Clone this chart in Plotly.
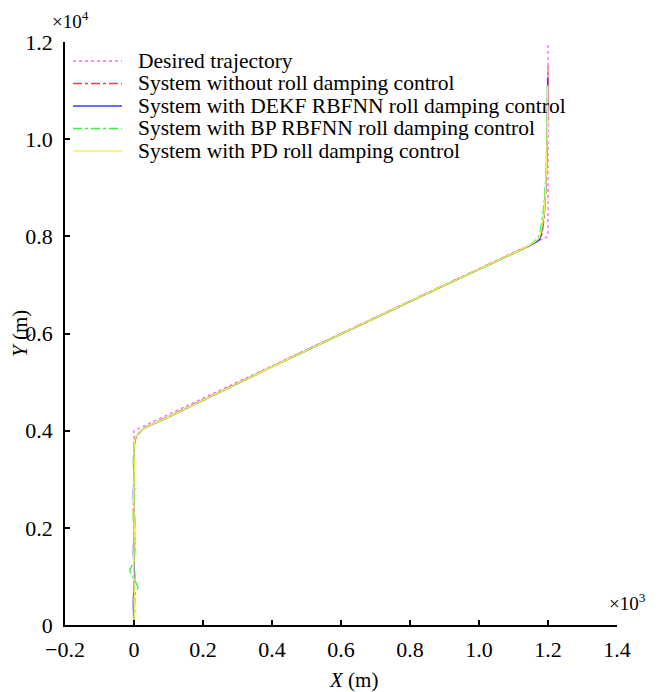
import plotly.graph_objects as go

# ---- data (metres) ----
des_x = [0, 0, 1200, 1200]
des_y = [0, 4000, 8000, 12000]

red_x = [0, 2, -1, 2, -2, 1, -1, 2, 8, 30, 100, 300, 500, 700, 900, 1100, 1150, 1178, 1190, 1196, 1199, 1200]
red_y = [0, 600, 1200, 1800, 2400, 3000, 3400, 3750, 3890, 4050, 4290, 4980, 5660, 6330, 7000, 7660, 7830, 7960, 8500, 9400, 10500, 11500]

blue_x = [0, -2, 2, -2, 2, -2, 1, 0, 6, 28, 100, 300, 500, 700, 900, 1100, 1150, 1176, 1187, 1195, 1198, 1199]
blue_y = [0, 500, 1000, 1500, 2100, 2700, 3200, 3700, 3880, 4040, 4280, 4970, 5650, 6320, 6990, 7650, 7820, 7940, 8400, 9300, 10300, 11270]

green_x = [0, 2, 0, 11, 0, -12, 0, 3, -2, 2, -2, 1, 6, 26, 100, 300, 500, 700, 900, 1100, 1148, 1172, 1186, 1194, 1197, 1198]
green_y = [0, 300, 580, 770, 950, 1120, 1300, 1700, 2200, 2800, 3300, 3700, 3870, 4030, 4280, 4970, 5650, 6320, 6990, 7650, 7830, 7980, 8500, 9300, 10200, 11100]

yellow_x = [0, 1, -1, 1, -1, 1, 0, 6, 27, 100, 300, 500, 700, 900, 1100, 1149, 1174, 1188, 1195, 1198, 1199]
yellow_y = [0, 600, 1300, 2000, 2700, 3300, 3700, 3880, 4035, 4285, 4975, 5655, 6325, 6995, 7655, 7830, 7970, 8450, 9300, 10200, 11100]

names = [
    "Desired trajectory",
    "System without roll damping control",
    "System with DEKF RBFNN roll damping control",
    "System with BP RBFNN roll damping control",
    "System with PD roll damping control",
]

x_ticks = [-200, 0, 200, 400, 600, 800, 1000, 1200, 1400]
x_ticktext = ["\u22120.2", "0", "0.2", "0.4", "0.6", "0.8", "1.0", "1.2", "1.4"]
y_ticks = [0, 2000, 4000, 6000, 8000, 10000, 12000]
y_ticktext = ["0", "0.2", "0.4", "0.6", "0.8", "1.0", "1.2"]

FONT = "Liberation Serif, Times New Roman, serif"

colors = ["#ff66ff", "#ff3b3b", "#3b3bff", "#3bee3b", "#f2f24a"]
dashes = ["dot", "dashdot", "solid", "dashdot", "solid"]
smooth = [False, True, True, True, True]
xs_all = [des_x, red_x, blue_x, green_x, yellow_x]
ys_all = [des_y, red_y, blue_y, green_y, yellow_y]

fig = go.Figure()
for xs, ys, col, dash, sm, nm in zip(xs_all, ys_all, colors, dashes, smooth, names):
    fig.add_trace(go.Scatter(
        x=xs, y=ys, mode="lines", name=nm, showlegend=False,
        line=dict(color=col, width=1.4, dash=dash,
                  shape="spline" if sm else "linear", smoothing=0.6),
    ))

axis_common = dict(
    showline=True, linecolor="black", linewidth=1.5,
    ticks="inside", ticklen=5, tickcolor="black", tickwidth=1.5,
    showgrid=False, zeroline=False, mirror=False, automargin=False,
    tickfont=dict(family=FONT, size=22, color="black"),
)
fig.update_xaxes(range=[-200, 1400], tickvals=x_ticks, ticktext=x_ticktext,
                 ticklabelstandoff=4, **axis_common)
fig.update_yaxes(range=[0, 12000], tickvals=y_ticks, ticktext=y_ticktext,
                 ticklabelstandoff=6, **axis_common)

# plot area in window pixels: x 65..617, y 42..625 (page body adds an 8px offset)
L, W, T, H = 65.0, 552.0, 42.0, 583.0
shapes = []
annotations = []
for i, (nm, col, dash) in enumerate(zip(names, colors, dashes)):
    py = 61 + 22.5 * i
    yp = (T + H - py) / H
    shapes.append(dict(type="line", xref="paper", yref="paper",
                       x0=(73 - L) / W, x1=(122 - L) / W, y0=yp, y1=yp,
                       line=dict(color=col, width=1.6, dash=dash)))
    annotations.append(dict(text=nm, xref="paper", yref="paper",
                            x=(136 - L) / W, y=yp, xanchor="left", yanchor="middle",
                            showarrow=False, font=dict(family=FONT, size=21.5, color="black")))

annotations += [
    dict(text="\u00d710<sup>4</sup>", xref="paper", yref="paper", x=0, y=1,
         xanchor="center", yanchor="bottom", xshift=5, yshift=8, showarrow=False,
         font=dict(family=FONT, size=19, color="black")),
    dict(text="\u00d710<sup>3</sup>", xref="paper", yref="paper", x=1, y=0,
         xanchor="left", yanchor="bottom", xshift=-10, yshift=9, showarrow=False,
         font=dict(family=FONT, size=19, color="black")),
    # axis titles
    dict(text="<i>X</i> (m)", xref="paper", yref="paper",
         x=(353 - L) / W, y=(T + H - 680) / H, xanchor="center", yanchor="middle",
         showarrow=False, font=dict(family=FONT, size=21, color="black")),
    dict(text="<i>Y</i> (m)", xref="paper", yref="paper", textangle=-90,
         x=(20 - L) / W, y=(T + H - 334) / H, xanchor="center", yanchor="middle",
         showarrow=False, font=dict(family=FONT, size=21, color="black")),
]

fig.update_layout(
    width=664, height=692,
    margin=dict(l=57, r=55, t=34, b=75),
    paper_bgcolor="white", plot_bgcolor="white",
    font=dict(family=FONT, color="black"),
    showlegend=False,
    shapes=shapes,
    annotations=annotations,
)

fig.write_html("out.html")
